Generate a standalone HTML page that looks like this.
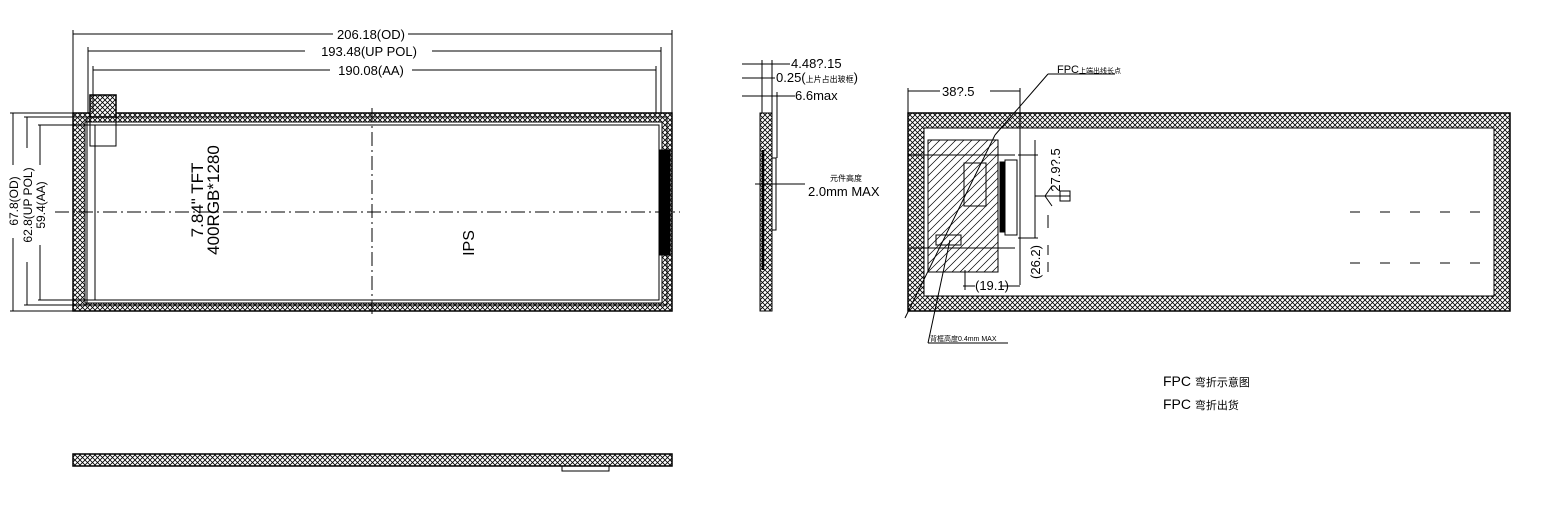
<!DOCTYPE html>
<html><head><meta charset="utf-8"><style>
html,body{margin:0;padding:0;background:#fff;}
svg{display:block;}
text{font-family:"Liberation Sans","Noto Sans CJK SC",sans-serif;fill:#000;}
</style></head><body>
<svg width="1554" height="512" viewBox="0 0 1554 512" xmlns="http://www.w3.org/2000/svg">
<defs>
<pattern id="h" width="5" height="5" patternUnits="userSpaceOnUse">
<rect width="5" height="5" fill="#fff"/>
<path d="M0 0L5 5M5 0L0 5" stroke="#000" stroke-width="0.8"/>
</pattern>
<pattern id="d" width="8" height="8" patternUnits="userSpaceOnUse">
<path d="M0 8L8 0M-2 2L2 -2M6 10L10 6" stroke="#000" stroke-width="0.7"/>
</pattern>
</defs>
<g fill="none" stroke="#000" stroke-width="1">
<!-- FRONT VIEW -->
<path fill="url(#h)" fill-rule="evenodd" d="M73 113H672V311H73Z M85 122H662V303H85Z"/>
<rect x="73" y="113" width="599" height="198" stroke-width="1.5"/>
<rect x="87" y="117" width="580" height="188"/>
<rect x="95" y="125" width="564" height="175"/>
<rect x="660" y="150" width="10" height="105" fill="#000"/>
<rect x="90" y="95" width="26" height="22" fill="url(#h)" stroke-width="1.5"/>
<rect x="90" y="95" width="26" height="51"/>
<line x1="372" y1="108" x2="372" y2="318" stroke-dasharray="14,4,2,4"/>
<line x1="55" y1="212" x2="680" y2="212" stroke-dasharray="14,4,2,4"/>
<!-- top dims -->
<line x1="73" y1="30" x2="73" y2="113"/><line x1="672" y1="30" x2="672" y2="113"/>
<line x1="88" y1="47" x2="88" y2="113"/><line x1="661" y1="47" x2="661" y2="113"/>
<line x1="93" y1="66" x2="93" y2="113"/><line x1="656" y1="66" x2="656" y2="113"/>
<line x1="73" y1="34" x2="333" y2="34"/><line x1="408" y1="34" x2="672" y2="34"/>
<line x1="88" y1="51" x2="305" y2="51"/><line x1="432" y1="51" x2="661" y2="51"/>
<line x1="93" y1="70" x2="330" y2="70"/><line x1="412" y1="70" x2="656" y2="70"/>
<!-- left dims -->
<line x1="10" y1="113" x2="73" y2="113"/><line x1="10" y1="311" x2="73" y2="311"/>
<line x1="24" y1="117" x2="87" y2="117"/><line x1="24" y1="305" x2="87" y2="305"/>
<line x1="38" y1="125" x2="95" y2="125"/><line x1="38" y1="300" x2="95" y2="300"/>
<line x1="13" y1="113" x2="13" y2="165"/><line x1="13" y1="238" x2="13" y2="311"/>
<line x1="27" y1="117" x2="27" y2="148"/><line x1="27" y1="262" x2="27" y2="305"/>
<line x1="40" y1="125" x2="40" y2="165"/><line x1="40" y1="245" x2="40" y2="300"/>
<!-- SIDE VIEW -->
<rect x="760" y="113" width="12" height="198" fill="url(#h)"/>
<line x1="763" y1="150" x2="763" y2="270" stroke-width="2.5"/>
<rect x="772" y="158" width="4" height="72"/>
<line x1="762" y1="60" x2="762" y2="113"/><line x1="772" y1="60" x2="772" y2="113"/><line x1="777" y1="92" x2="777" y2="158"/>
<line x1="742" y1="64" x2="790" y2="64"/><line x1="742" y1="78" x2="775" y2="78"/><line x1="742" y1="96" x2="795" y2="96"/>
<line x1="755" y1="184" x2="805" y2="184"/>
<!-- BOTTOM VIEW -->
<rect x="73" y="454" width="599" height="12" fill="url(#h)" stroke-width="1.5"/>
<rect x="562" y="466" width="47" height="5"/>
<!-- RIGHT VIEW -->
<path fill="url(#h)" fill-rule="evenodd" d="M908 113H1510V311H908Z M924 128H1494V296H924Z"/>
<rect x="908" y="113" width="602" height="198" stroke-width="1.5"/>
<rect x="928" y="140" width="70" height="132" fill="url(#d)"/>
<rect x="964" y="163" width="22" height="43"/>
<rect x="1005" y="160" width="12" height="75"/>
<rect x="1000" y="162" width="5" height="70" fill="#000"/>
<rect x="936" y="235" width="25" height="10"/>
<line x1="908" y1="155" x2="1015" y2="155"/><line x1="908" y1="248" x2="1015" y2="248"/>
<line x1="908" y1="88" x2="908" y2="113"/><line x1="1020" y1="88" x2="1020" y2="285"/>
<line x1="908" y1="91" x2="940" y2="91"/><line x1="990" y1="91" x2="1020" y2="91"/>
<line x1="1018" y1="155" x2="1038" y2="155"/><line x1="1018" y1="238" x2="1038" y2="238"/>
<line x1="1035" y1="140" x2="1035" y2="238"/>
<line x1="1035" y1="196" x2="1070" y2="196"/><rect x="1060" y="191" width="10" height="10"/>
<line x1="1045" y1="196" x2="1052" y2="186"/><line x1="1045" y1="196" x2="1052" y2="206"/>
<line x1="963" y1="286" x2="975" y2="286"/><line x1="1000" y1="286" x2="1020" y2="286"/>
<line x1="965" y1="270" x2="965" y2="290"/>
<line x1="1048" y1="215" x2="1048" y2="228"/><line x1="1048" y1="245" x2="1048" y2="255"/><line x1="1048" y1="262" x2="1048" y2="272"/>
<line x1="1048" y1="74" x2="1115" y2="74"/><line x1="1048" y1="74" x2="995" y2="135"/><line x1="995" y1="135" x2="905" y2="318"/>
<line x1="928" y1="343" x2="1008" y2="343"/><line x1="928" y1="343" x2="950" y2="240"/>
<g stroke-dasharray="10,20"><line x1="1350" y1="212" x2="1495" y2="212"/><line x1="1350" y1="263" x2="1495" y2="263"/></g>
</g>
<g font-size="13">
<text x="371" y="39" text-anchor="middle">206.18(OD)</text>
<text x="369" y="56" text-anchor="middle">193.48(UP POL)</text>
<text x="371" y="75" text-anchor="middle">190.08(AA)</text>
<text transform="translate(18,201) rotate(-90)" text-anchor="middle" font-size="12">67.8(OD)</text>
<text transform="translate(32,205) rotate(-90)" text-anchor="middle" font-size="12">62.8(UP POL)</text>
<text transform="translate(45,205) rotate(-90)" text-anchor="middle" font-size="12">59.4(AA)</text>
<text transform="translate(203,200) rotate(-90)" text-anchor="middle" font-size="17">7.84" TFT</text>
<text transform="translate(219,200) rotate(-90)" text-anchor="middle" font-size="17">400RGB*1280</text>
<text transform="translate(474,243) rotate(-90)" text-anchor="middle" font-size="16">IPS</text>
<text x="791" y="68">4.48?.15</text>
<text x="776" y="82">0.25(<tspan font-size="8">上片占出玻框</tspan>)</text>
<text x="795" y="100">6.6max</text>
<text x="830" y="181" font-size="8">元件高度</text>
<text x="808" y="196">2.0mm  MAX</text>
<text x="942" y="96">38?.5</text>
<text x="1057" y="73" font-size="11">FPC<tspan font-size="7">上端出线长点</tspan></text>
<text transform="translate(1060,170) rotate(-90)" text-anchor="middle">27.9?.5</text>
<text transform="translate(1040,262) rotate(-90)" text-anchor="middle">(26.2)</text>
<text x="975" y="290">(19.1)</text>
<text x="930" y="341" font-size="7">背框高度0.4mm  MAX</text>
<text x="1163" y="386" font-size="14">FPC <tspan font-size="11">弯折示意图</tspan></text>
<text x="1163" y="409" font-size="14">FPC <tspan font-size="11">弯折出货</tspan></text>
</g>
</svg>
</body></html>
